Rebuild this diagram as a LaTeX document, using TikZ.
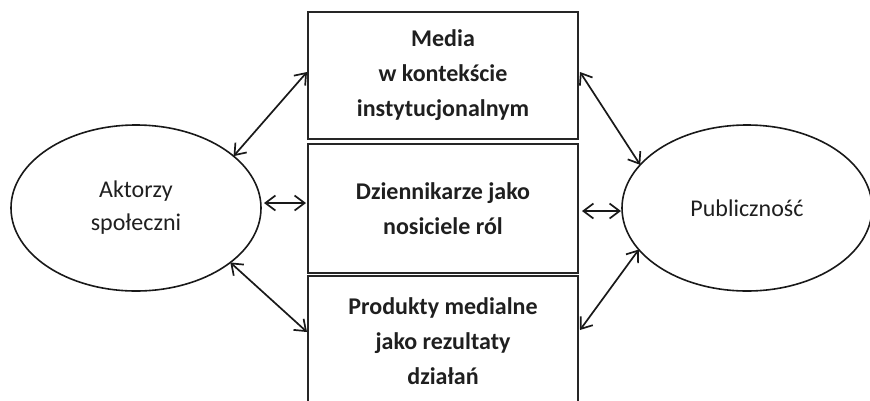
\documentclass[tikz,border=0pt]{standalone}
\usepackage{fontspec}
\setmainfont{Carlito}
\usetikzlibrary{shapes.geometric,arrows.meta}
\begin{document}
\begin{tikzpicture}[x=1pt,y=-1pt,
  box/.style={draw=black!85, line width=2pt, minimum width=270pt, align=center,
    font=\bfseries\fontsize{24}{35}\selectfont, text=black!88, inner sep=0pt, outer sep=0pt},
  oval/.style={draw=black!90, line width=1.6pt, ellipse, inner sep=0pt, outer sep=0pt, align=center,
    minimum width=250pt, minimum height=166pt,
    font=\fontsize{24}{33}\selectfont, text=black!88},
  link/.style={line width=1.7pt, draw=black!90,
    {Straight Barb[length=10pt,width=15pt]}-{Straight Barb[length=10pt,width=15pt]}}]
\clip (0,0) rectangle (870,400);
\node[box, minimum height=127pt] (media) at (443,75.5) {Media\\w kontekście\\instytucjonalnym};
\node[box, minimum height=129pt] (dzien) at (443,208.5) {Dziennikarze jako\\nosiciele ról};
\node[box, minimum height=130pt] (prod) at (443,341) {Produkty medialne\\jako rezultaty\\działań};
\node[oval] (akt) at (136,208) {Aktorzy\\społeczni};
\node[oval] (pub) at (747,208) {Publiczność};
\draw[link] (akt.28.5) -- ([xshift=-1pt,yshift=3.5pt]media.west);
\draw[link] ([xshift=3pt,yshift=5pt]akt.east) -- ([xshift=-2pt,yshift=5pt]akt.east -| dzien.west);
\draw[link] (akt.-30) -- ([xshift=-1pt,yshift=9pt]prod.west);
\draw[link] ([xshift=2pt,yshift=3.5pt]media.east) -- (pub.158);
\draw[link] ([xshift=4pt,yshift=-3pt]pub.west -| dzien.east) -- ([xshift=-1pt,yshift=-3pt]pub.west);
\draw[link] ([xshift=2pt,yshift=11pt]prod.east) -- (pub.201.5);
\end{tikzpicture}
\end{document}
